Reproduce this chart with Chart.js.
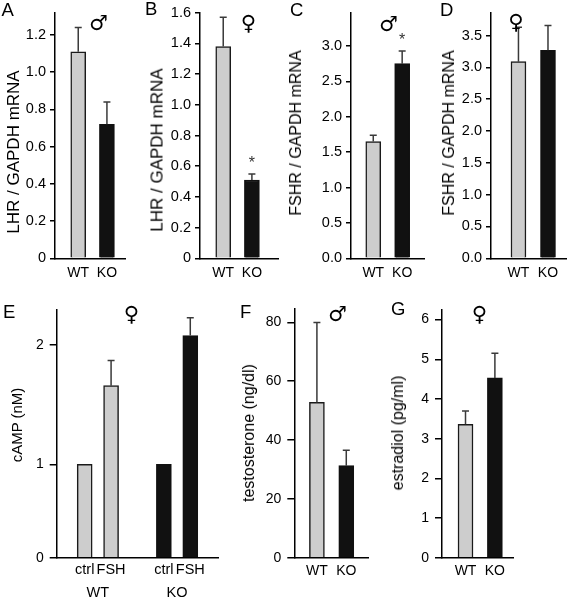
<!DOCTYPE html>
<html>
<head>
<meta charset="utf-8">
<script src="https://cdn.jsdelivr.net/npm/chart.js@4"></script>
<style>
  body { margin: 0; background: #fff; width: 569px; height: 600px; position: relative; overflow: hidden; font-family: 'Liberation Sans', Arial, sans-serif; }
  canvas { position: absolute; }
  .letter { position: absolute; font-size: 18.5px; line-height: 1; }
  .sex { position: absolute; font-family: 'DejaVu Sans', sans-serif; font-weight: bold; font-size: 21px; line-height: 1; transform: translate(-50%, -50%); }
  .ytitle { position: absolute; white-space: nowrap; line-height: 1; transform: translate(-50%, -50%) rotate(-90deg); }
</style>
</head>
<body>
<canvas id="a" width="140" height="290"></canvas>
<canvas id="b" width="140" height="290"></canvas>
<canvas id="c" width="145" height="290"></canvas>
<canvas id="d" width="144" height="290"></canvas>
<canvas id="e" width="235" height="310"></canvas>
<canvas id="f" width="150" height="310"></canvas>
<canvas id="g" width="184" height="310"></canvas>

<div class="letter" style="left:1.5px;top:1px">A</div>
<div class="letter" style="left:145px;top:0px">B</div>
<div class="letter" style="left:290px;top:1px">C</div>
<div class="letter" style="left:440px;top:1px">D</div>
<div class="letter" style="left:3px;top:303px">E</div>
<div class="letter" style="left:240px;top:303px">F</div>
<div class="letter" style="left:391px;top:300px">G</div>

<div class="sex" style="left:98.5px;top:22.5px">♂</div>
<div class="sex" style="left:248.5px;top:23px">♀</div>
<div class="sex" style="left:388.5px;top:23.5px">♂</div>
<div class="sex" style="left:516px;top:21.5px">♀</div>
<div class="sex" style="left:131.5px;top:314px">♀</div>
<div class="sex" style="left:337.5px;top:314px">♂</div>
<div class="sex" style="left:479.5px;top:314px">♀</div>

<div class="ytitle" style="left:13px;top:152px;font-size:17px">LHR / GAPDH mRNA</div>
<div class="ytitle" style="left:156.7px;top:150px;font-size:17px">LHR / GAPDH mRNA</div>
<div class="ytitle" style="left:295.5px;top:132.5px;font-size:16px">FSHR / GAPDH mRNA</div>
<div class="ytitle" style="left:449px;top:132.5px;font-size:16px">FSHR / GAPDH mRNA</div>
<div class="ytitle" style="left:15.5px;top:425px;font-size:15px">cAMP (nM)</div>
<div class="ytitle" style="left:249px;top:433px;font-size:16px">testosterone (ng/dl)</div>
<div class="ytitle" style="left:397.5px;top:433px;font-size:16px">estradiol (pg/ml)</div>

<script>
const genotypes = ['WT', 'KO'];
const treatments = ['ctrl', 'FSH'];

const lhrMale = [1.11, 0.72];
const lhrMaleSem = [0.13, 0.12];
const lhrFemale = [1.38, 0.51];
const lhrFemaleSem = [0.19, 0.04];
const lhrFemaleSig = ['', '*'];
const fshrMale = [1.65, 2.75];
const fshrMaleSem = [0.09, 0.18];
const fshrMaleSig = ['', '*'];
const fshrFemale = [3.09, 3.27];
const fshrFemaleSem = [0.54, 0.39];

const campWT = [1, 1.66];
const campWTSem = [0, 0.21];
const campKO = [1, 2.08];
const campKOSem = [0, 0.15];

const testosterone = [52.8, 31.3];
const testosteroneSem = [27.2, 5.2];
const estradiol = [3.36, 4.53];
const estradiolSem = [0.34, 0.62];

const WT_FILL = '#cdcdcd';
const KO_FILL = '#111111';
const FONT = "'Liberation Sans', Arial, sans-serif";

// y axis of panel E is drawn stretched above 1 (as in the figure)
class BrokenLinearScale extends Chart.LinearScale {
  warp(v) {
    const k = this.options.knee, r = this.options.lowRatio;
    return v <= k ? v * r : k * r + (v - k);
  }
  getPixelForValue(value) {
    if (value === null || isNaN(value)) return NaN;
    return this.getPixelForDecimal(this.warp(value) / this.warp(this.max));
  }
  getValueForPixel(pixel) {
    const k = this.options.knee, r = this.options.lowRatio;
    const d = this.getDecimalForPixel(pixel) * this.warp(this.max);
    return d <= k * r ? d / r : d - k * r + k;
  }
}
BrokenLinearScale.id = 'brokenLinear';
BrokenLinearScale.defaults = Chart.LinearScale.defaults;
Chart.register(BrokenLinearScale);

const errorBars = {
  id: 'errorBars',
  afterDatasetsDraw(chart) {
    const ctx = chart.ctx, ys = chart.scales.y;
    chart.data.datasets.forEach((ds, di) => {
      chart.getDatasetMeta(di).data.forEach((bar, i) => {
        const v = ds.data[i].y, e = ds.sem[i];
        const top = ys.getPixelForValue(v + e);
        ctx.save();
        if (e > 0) {
          ctx.strokeStyle = '#3a3a3a';
          ctx.lineWidth = 1.5;
          ctx.beginPath();
          ctx.moveTo(bar.x, bar.y);
          ctx.lineTo(bar.x, top);
          ctx.moveTo(bar.x - 3.5, top);
          ctx.lineTo(bar.x + 3.5, top);
          ctx.stroke();
        }
        if (ds.sig && ds.sig[i]) {
          ctx.fillStyle = '#333';
          ctx.font = '16px ' + FONT;
          ctx.textAlign = 'center';
          ctx.textBaseline = 'alphabetic';
          ctx.fillText(ds.sig[i], bar.x, top - 6);
        }
        ctx.restore();
      });
    });
  }
};

const groupLabels = {
  id: 'groupLabels',
  afterDraw(chart, args, opts) {
    if (!opts.groups) return;
    const ctx = chart.ctx, xs = chart.scales.x;
    ctx.save();
    ctx.font = '14.5px ' + FONT;
    ctx.fillStyle = '#000';
    ctx.textAlign = 'center';
    ctx.textBaseline = 'top';
    opts.groups.forEach(g => {
      const x = (xs.getPixelForValue(g.from) + xs.getPixelForValue(g.to)) / 2;
      ctx.fillText(g.text, x, opts.y);
    });
    ctx.restore();
  }
};

function makePanel(p) {
  const cv = document.getElementById(p.id);
  cv.style.left = p.left + 'px';
  cv.style.top = p.top + 'px';
  const slots = p.slots || p.values.map((v, i) => i);
  const slotLabels = {};
  slots.forEach((s, i) => slotLabels[s] = p.labels[i]);

  return new Chart(cv, {
    type: 'bar',
    data: {
      datasets: [{
        data: p.values.map((v, i) => ({ x: slots[i], y: v })),
        sem: p.sems,
        sig: p.sig,
        backgroundColor: p.colors.map(c => c === 'WT' ? WT_FILL : KO_FILL),
        borderColor: p.colors.map(c => c === 'WT' ? '#1a1a1a' : KO_FILL),
        borderWidth: 1.5,
        barThickness: 15
      }]
    },
    options: {
      responsive: false,
      animation: false,
      layout: {
        padding: {
          left: 0,
          top: p.area.t - p.top,
          right: p.left + cv.width - p.area.r,
          bottom: 0
        }
      },
      plugins: {
        legend: { display: false },
        tooltip: { enabled: false },
        groupLabels: p.groups || {}
      },
      scales: {
        x: {
          type: 'linear',
          min: p.xMin,
          max: p.xMax,
          bounds: 'data',
          offset: false,
          grid: { display: false, drawTicks: false },
          border: { display: true, color: '#000', width: 1.5 },
          afterBuildTicks: s => { s.ticks = slots.map(v => ({ value: v })); },
          ticks: {
            autoSkip: false,
            maxRotation: 0,
            padding: p.xPad,
            color: '#000',
            font: { family: FONT, size: p.xFont || 14 },
            callback: v => slotLabels[v] ?? ''
          },
          afterFit: s => { s.height = p.top + cv.height - p.area.b; }
        },
        y: {
          type: p.yType || 'linear',
          knee: 1,
          lowRatio: p.lowRatio,
          min: 0,
          max: p.yMax,
          bounds: 'data',
          grid: { display: true, drawOnChartArea: false, drawTicks: true, tickLength: p.tickLen || 5, color: '#000', lineWidth: 1.5 },
          border: { display: true, color: '#000', width: 1.5 },
          ticks: {
            stepSize: p.yStep,
            includeBounds: false,
            padding: p.tickPad || 4,
            color: '#000',
            font: { family: FONT, size: p.yFont || 14.5 },
            callback: p.yFmt
          },
          afterFit: s => { s.width = p.area.l - p.left; }
        }
      }
    },
    plugins: [errorBars, groupLabels]
  });
}

const fmt0 = v => v === 0 ? '0' : v.toFixed(1);
const fmt1 = v => v.toFixed(1);
const fmtInt = v => String(Math.round(v));

makePanel({ id: 'a', left: 0, top: 0, area: { l: 55, t: 10, r: 125, b: 258.3 },
  labels: genotypes, colors: genotypes, values: lhrMale, sems: lhrMaleSem,
  xMin: -0.81, xMax: 1.63, yMax: 1.32, yStep: 0.2, yFmt: fmt0, xPad: 6 });

makePanel({ id: 'b', left: 140, top: 0, area: { l: 200, t: 12, r: 278, b: 258.3 },
  labels: genotypes, colors: genotypes, values: lhrFemale, sems: lhrFemaleSem, sig: lhrFemaleSig,
  xMin: -0.81, xMax: 1.91, yMax: 1.6, yStep: 0.2, yFmt: fmt0, xPad: 6 });

makePanel({ id: 'c', left: 280, top: 0, area: { l: 351, t: 10, r: 425, b: 258.3 },
  labels: genotypes, colors: genotypes, values: fshrMale, sems: fshrMaleSem, sig: fshrMaleSig,
  xMin: -0.77, xMax: 1.79, yMax: 3.47, yStep: 0.5, yFmt: fmt1, xPad: 6 });

makePanel({ id: 'd', left: 425, top: 0, area: { l: 491, t: 11.7, r: 566, b: 258.3 },
  labels: genotypes, colors: genotypes, values: fshrFemale, sems: fshrFemaleSem,
  xMin: -0.93, xMax: 1.61, yMax: 3.86, yStep: 0.5, yFmt: fmt1, xPad: 6 });

// panel E: two treatments per genotype, one empty slot between genotypes
const campSlots = [], campLabels = [], campColors = [], campValues = [], campSems = [], campGroups = [];
[[campWT, campWTSem], [campKO, campKOSem]].forEach(([vals, sems], g) => {
  const base = g * (treatments.length + 1);
  treatments.forEach((t, i) => {
    campSlots.push(base + i);
    campLabels.push(t);
    campColors.push(genotypes[g]);
    campValues.push(vals[i]);
    campSems.push(sems[i]);
  });
  campGroups.push({ text: genotypes[g], from: base, to: base + treatments.length - 1 });
});

makePanel({ id: 'e', left: 0, top: 290, area: { l: 56.7, t: 309.3, r: 218, b: 557.7 },
  labels: campLabels, colors: campColors, values: campValues, sems: campSems, slots: campSlots,
  groups: { groups: campGroups, y: 585.5 - 290 },
  xMin: -1.06, xMax: 5.05, yType: 'brokenLinear', lowRatio: 0.782, yMax: 2.3, yStep: 1, yFmt: fmtInt,
  xPad: 4, xFont: 14.5, yFont: 14, tickLen: 7, tickPad: 6 });

makePanel({ id: 'f', left: 235, top: 290, area: { l: 294.3, t: 308.3, r: 368.3, b: 557.7 },
  labels: genotypes, colors: genotypes, values: testosterone, sems: testosteroneSem,
  xMin: -0.77, xMax: 1.75, yMax: 84.8, yStep: 20, yFmt: fmtInt,
  xPad: 5, yFont: 14, tickLen: 7, tickPad: 6 });

makePanel({ id: 'g', left: 385, top: 290, area: { l: 442, t: 309.3, r: 513.7, b: 557.7 },
  labels: genotypes, colors: genotypes, values: estradiol, sems: estradiolSem,
  xMin: -0.8, xMax: 1.64, yMax: 6.26, yStep: 1, yFmt: fmtInt,
  xPad: 5, yFont: 14, tickLen: 7, tickPad: 6 });
</script>
</body>
</html>
